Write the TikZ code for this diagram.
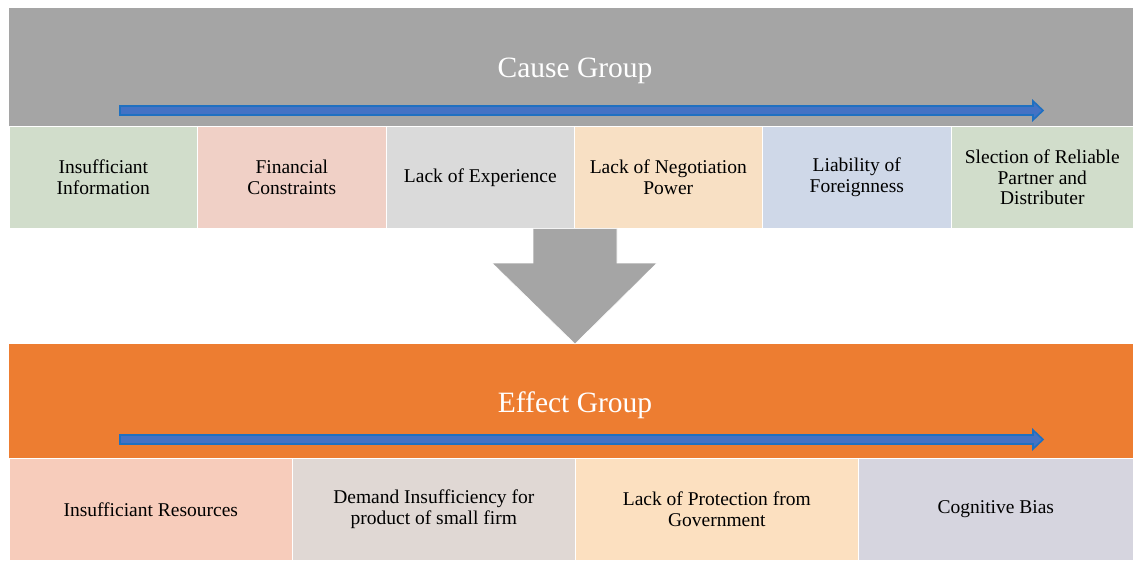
\documentclass[tikz,border=0pt]{standalone}
\usepackage{fontspec}
\setmainfont{Liberation Serif}
\definecolor{bandgray}{HTML}{A5A5A5}
\definecolor{bandorange}{HTML}{ED7D31}
\definecolor{arrowfill}{HTML}{4472C4}
\definecolor{arrowedge}{HTML}{1F70C1}
\definecolor{cgreen}{HTML}{D1DDCB}
\definecolor{cpink}{HTML}{F0D0C6}
\definecolor{cgray}{HTML}{DADADA}
\definecolor{cpeach}{HTML}{F8E0C4}
\definecolor{cblue}{HTML}{CFD8E8}
\definecolor{esalmon}{HTML}{F7CCBB}
\definecolor{etaupe}{HTML}{E0D8D4}
\definecolor{epeach}{HTML}{FCE0C0}
\definecolor{elilac}{HTML}{D6D5DF}
\begin{document}
\begin{tikzpicture}[x=1pt,y=-1pt,
  band/.style={anchor=north west, inner sep=0pt, minimum width=1124pt,
    minimum height=118pt, fill=#1},
  bandtitle/.style={text=white, font=\fontsize{29.5}{34}\selectfont},
  box/.style={anchor=north west, inner sep=0pt, minimum height=102pt,
    draw=white, line width=0.6pt, align=center, text=black,
    font=\fontsize{19.5}{20.5}\selectfont},
  flowarrow/.style={fill=arrowfill, draw=arrowedge, line width=1.6pt, line join=miter},
  downarrow/.style={fill=bandgray, draw=white, line width=0.6pt}
]
\useasboundingbox (0,0) rectangle (1133,560);

% cause group band and its factors
\node[band=bandgray, minimum height=118pt] (cause) at (9,8) {};
\node[bandtitle] (causetitle) at (575,70.5) {Cause Group};
\node[box, fill=cgreen, minimum width=188pt] (c1) at (9,126) {Insufficiant\\Information};
\node[box, fill=cpink,  minimum width=189pt] (c2) at (197,126) {Financial\\Constraints};
\node[box, fill=cgray,  minimum width=188pt] (c3) at (386,126) {Lack of Experience};
\node[box, fill=cpeach, minimum width=188pt] (c4) at (574,126) {Lack of Negotiation\\Power};
\node[box, fill=cblue,  minimum width=189pt] (c5) at (762,126) {Liability of\\Foreignness};
\node[box, fill=cgreen, minimum width=182pt] (c6) at (951,126) {Slection of Reliable\\Partner and\\Distributer};

% effect group band and its factors
\node[band=bandorange, minimum height=114pt] (effect) at (9,344) {};
\node[bandtitle] (effecttitle) at (575,405.5) {Effect Group};
\node[box, fill=esalmon, minimum width=283pt] (e1) at (9,458) {Insufficiant Resources};
\node[box, fill=etaupe,  minimum width=283pt] (e2) at (292,458) {Demand Insufficiency for\\product of small firm};
\node[box, fill=epeach,  minimum width=283pt] (e3) at (575,458) {Lack of Protection from\\Government};
\node[box, fill=elilac,  minimum width=275pt] (e4) at (858,458) {Cognitive Bias};

% sequence arrows inside the bands
\draw[flowarrow] (120,106) -- (1033,106) -- (1033,101) -- (1043,110.5)
  -- (1033,120) -- (1033,115) -- (120,115) -- cycle;
\draw[flowarrow] (120,435) -- (1033,435) -- (1033,430) -- (1043,439.5)
  -- (1033,449) -- (1033,444) -- (120,444) -- cycle;

% block arrow from causes to effects
\draw[downarrow] (c3.south -| 533,0) -- (c3.south -| 617,0) -- (617,263) -- (657,263)
  -- (effect.north -| 575,0) -- (492,263) -- (533,263) -- cycle;
\end{tikzpicture}
\end{document}
